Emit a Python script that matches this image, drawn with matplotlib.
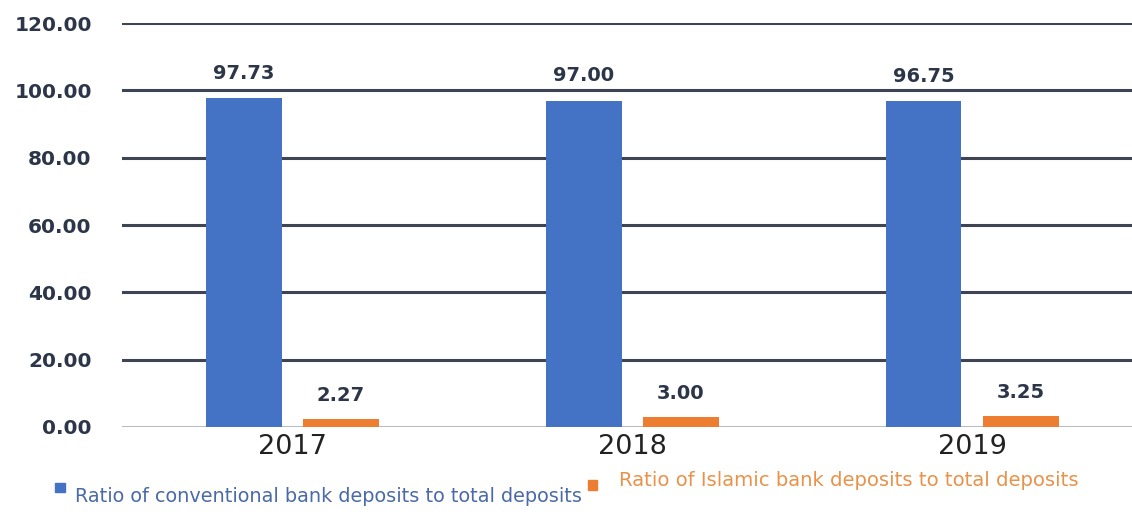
import numpy as np
import matplotlib.pyplot as plt
from matplotlib.patches import Rectangle

years = ['2017', '2018', '2019']
conventional = [97.73, 97.00, 96.75]
islamic = [2.27, 3.00, 3.25]
yticks = [0, 20, 40, 60, 80, 100, 120]

blue = '#4472c4'
orange = '#ed7d31'
navy = '#2c3648'

fig = plt.figure(figsize=(11.32, 5.15), dpi=100)
ax = fig.add_axes([0.108, 0.171, 0.892, 0.784])

x = np.arange(len(years))
w = 0.223
off = 0.143
ax.bar(x - off, conventional, w, color=blue, zorder=3)
ax.bar(x + off, islamic, w, color=orange, zorder=3)

for xi, v in zip(x, conventional):
    ax.annotate(f'{v:.2f}', (xi - off, v), xytext=(0, 11), textcoords='offset points',
                ha='center', va='bottom', fontsize=14, fontweight='bold', color=navy)
for xi, v in zip(x, islamic):
    ax.annotate(f'{v:.2f}', (xi + off, v), xytext=(0, 10), textcoords='offset points',
                ha='center', va='bottom', fontsize=14, fontweight='bold', color=navy)

ax.set_ylim(0, 120)
ax.set_xlim(-0.5, 2.47)
ax.set_yticks(yticks)
ax.set_yticklabels([f'{t:.2f}' for t in yticks], fontsize=14.5, fontweight='bold', color=navy)
for t in yticks:
    if t == 0:
        ax.axhline(t, color='#b8bcc4', lw=1.5, zorder=1)
    else:
        ax.axhline(t, color='#3d4454', lw=2.2, zorder=1)

ax.set_xticks(x)
ax.set_xticklabels(years, fontsize=19.5, color='#222222')
ax.tick_params(axis='both', length=0)
ax.tick_params(axis='y', pad=22)
ax.tick_params(axis='x', pad=5)
for s in ax.spines.values():
    s.set_visible(False)

# legend drawn by hand, as in the original
fig.patches.append(Rectangle((0.049, 0.044), 0.0088, 0.018, color=blue, transform=fig.transFigure))
fig.text(0.066, 0.018, 'Ratio of conventional bank deposits to total deposits',
         fontsize=13.9, color='#4a6aa8', va='bottom')
fig.patches.append(Rectangle((0.519, 0.048), 0.0088, 0.02, color=orange, transform=fig.transFigure))
fig.text(0.547, 0.048, 'Ratio of Islamic bank deposits to total deposits',
         fontsize=14.1, color='#e8924a', va='bottom')

fig.savefig('out.png', dpi=100)
